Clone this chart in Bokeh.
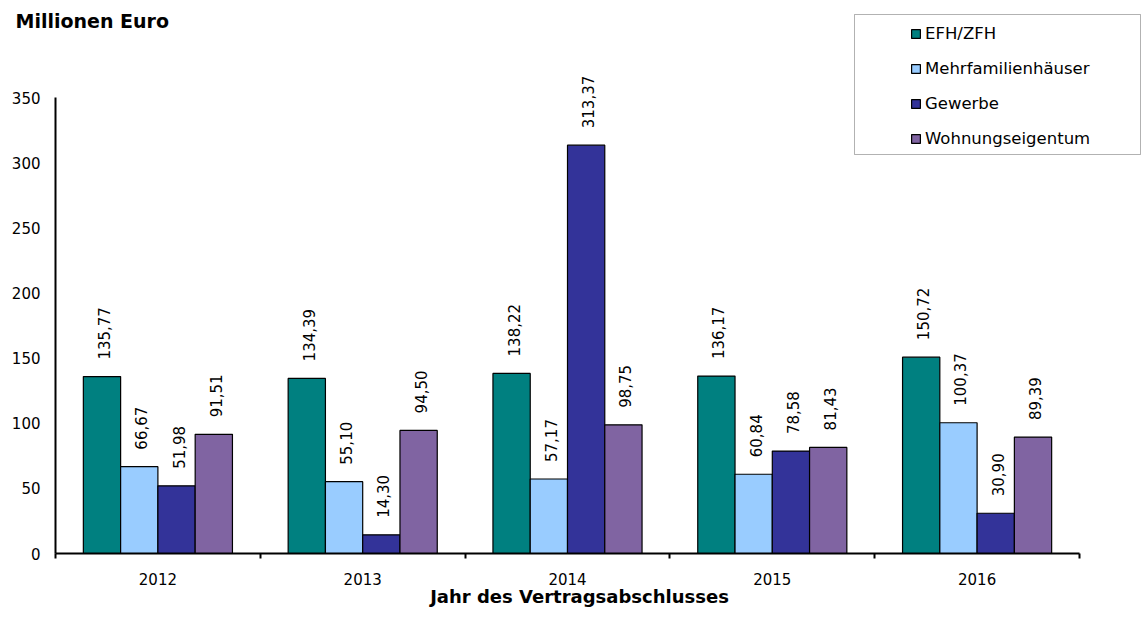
from math import pi

from bokeh.core.properties import value
from bokeh.embed import file_html
from bokeh.models import (BoxAnnotation, ColumnDataSource, FixedTicker, Label,
                          Legend, LegendItem, Range1d)
from bokeh.plotting import figure
from bokeh.resources import INLINE

# --- data -------------------------------------------------------------------
years = ["2012", "2013", "2014", "2015", "2016"]
series = ["EFH/ZFH", "Mehrfamilienhäuser", "Gewerbe", "Wohnungseigentum"]
efh_zfh = [135.77, 134.39, 138.22, 136.17, 150.72]
mehrfamilienhaeuser = [66.67, 55.10, 57.17, 60.84, 100.37]
gewerbe = [51.98, 14.30, 313.37, 78.58, 30.90]
wohnungseigentum = [91.51, 94.50, 98.75, 81.43, 89.39]
y_ticks = [0, 50, 100, 150, 200, 250, 300, 350]

values = [efh_zfh, mehrfamilienhaeuser, gewerbe, wohnungseigentum]
colors = ["#008080", "#99CCFF", "#333399", "#8064A2"]

# --- layout -----------------------------------------------------------------
# The plot frame fills the whole canvas; both axes are pinned at the origin
# so that titles and legend can sit anywhere on the canvas.
FONT = "DejaVu Sans"
W, H = 1142, 625
ORIGIN_X, ORIGIN_Y = 55, 553   # canvas position of the origin
AXIS_W, AXIS_H = 1024, 456     # drawn length of the x and y axis lines
Y_MAX = y_ticks[-1]

px_x = AXIS_W / len(years)
px_y = AXIS_H / Y_MAX
x_range = Range1d(-ORIGIN_X / px_x, (W - ORIGIN_X) / px_x)
y_range = Range1d(-(H - ORIGIN_Y) / px_y, ORIGIN_Y / px_y)

p = figure(width=W, height=H, title=None, x_range=x_range, y_range=y_range,
           output_backend="svg", toolbar_location=None,
           min_border=0, min_border_left=0, min_border_right=0,
           min_border_top=0, min_border_bottom=0,
           outline_line_color=None, background_fill_color="white",
           border_fill_color="white")
p.xgrid.visible = False
p.ygrid.visible = False

# x axis: labels at the group centres, tick marks between the groups
centers = [i + 0.5 for i in range(len(years))]
xa = p.xaxis[0]
xa.fixed_location = 0
xa.ticker = FixedTicker(ticks=centers, minor_ticks=list(range(len(years) + 1)))
xa.major_label_overrides = {c: y for c, y in zip(centers, years)}
xa.bounds = (0, len(years))
xa.major_tick_out = 0
xa.major_tick_in = 0
xa.minor_tick_out = 5
xa.minor_tick_in = 0
xa.minor_tick_line_color = "black"
xa.minor_tick_line_width = 2
xa.axis_line_color = "black"
xa.axis_line_width = 2
xa.major_label_standoff = 14
xa.major_label_text_font = FONT
xa.major_label_text_font_size = "15px"
xa.major_label_text_color = "black"

ya = p.yaxis[0]
ya.fixed_location = 0
ya.ticker = FixedTicker(ticks=y_ticks)
ya.bounds = (0, Y_MAX)
ya.major_tick_out = 0
ya.major_tick_in = 0
ya.minor_tick_out = 0
ya.minor_tick_in = 0
ya.axis_line_color = "black"
ya.axis_line_width = 2
ya.major_label_standoff = 15
ya.major_label_text_font = FONT
ya.major_label_text_font_size = "15px"
ya.major_label_text_color = "black"

# --- bars and value labels ----------------------------------------------------
bar_w = 0.182
n = len(series)
legend_items = []
for j, (name, vals, col) in enumerate(zip(series, values, colors)):
    off = (j - (n - 1) / 2) * bar_w
    src = ColumnDataSource(dict(
        x=[c + off for c in centers],
        top=vals,
        label=[f"{v:.2f}".replace(".", ",") for v in vals],
    ))
    bars = p.vbar(x="x", top="top", width=bar_w, source=src,
                  fill_color=col, line_color="black", line_width=1.2)
    p.text(x="x", y="top", text="label", source=src, angle=pi / 2,
           x_offset=2, y_offset=-17, text_align="left", text_baseline="middle",
           text_font=value(FONT), text_font_size="15px", text_color="black")
    legend_items.append(LegendItem(label=name, renderers=[bars]))

# --- legend (screen units measured from the canvas bottom-left) ----------------
p.add_layout(BoxAnnotation(left=854, right=1140, top=H - 14, bottom=H - 154,
                           left_units="screen", right_units="screen",
                           top_units="screen", bottom_units="screen",
                           fill_alpha=0, line_color="black", line_width=1))
legend = Legend(items=legend_items, location=(910, H - 149), orientation="vertical",
                padding=0, margin=0, spacing=13, glyph_width=11, glyph_height=11,
                label_height=22, label_standoff=4,
                label_text_font=FONT, label_text_font_size="16.5px",
                label_text_color="black", border_line_color=None,
                background_fill_alpha=0)
p.add_layout(legend)

# --- titles -----------------------------------------------------------------
p.add_layout(Label(x=15, y=H - 9, x_units="screen", y_units="screen",
                   text="Millionen Euro", text_font=FONT, text_font_style="bold",
                   text_font_size="19px", text_baseline="top", text_color="black"))
p.add_layout(Label(x=579, y=H - 585, x_units="screen", y_units="screen",
                   text="Jahr des Vertragsabschlusses", text_font=FONT,
                   text_font_style="bold", text_font_size="18px",
                   text_align="center", text_baseline="top", text_color="black"))

open("out.html", "w").write(file_html(p, INLINE))
